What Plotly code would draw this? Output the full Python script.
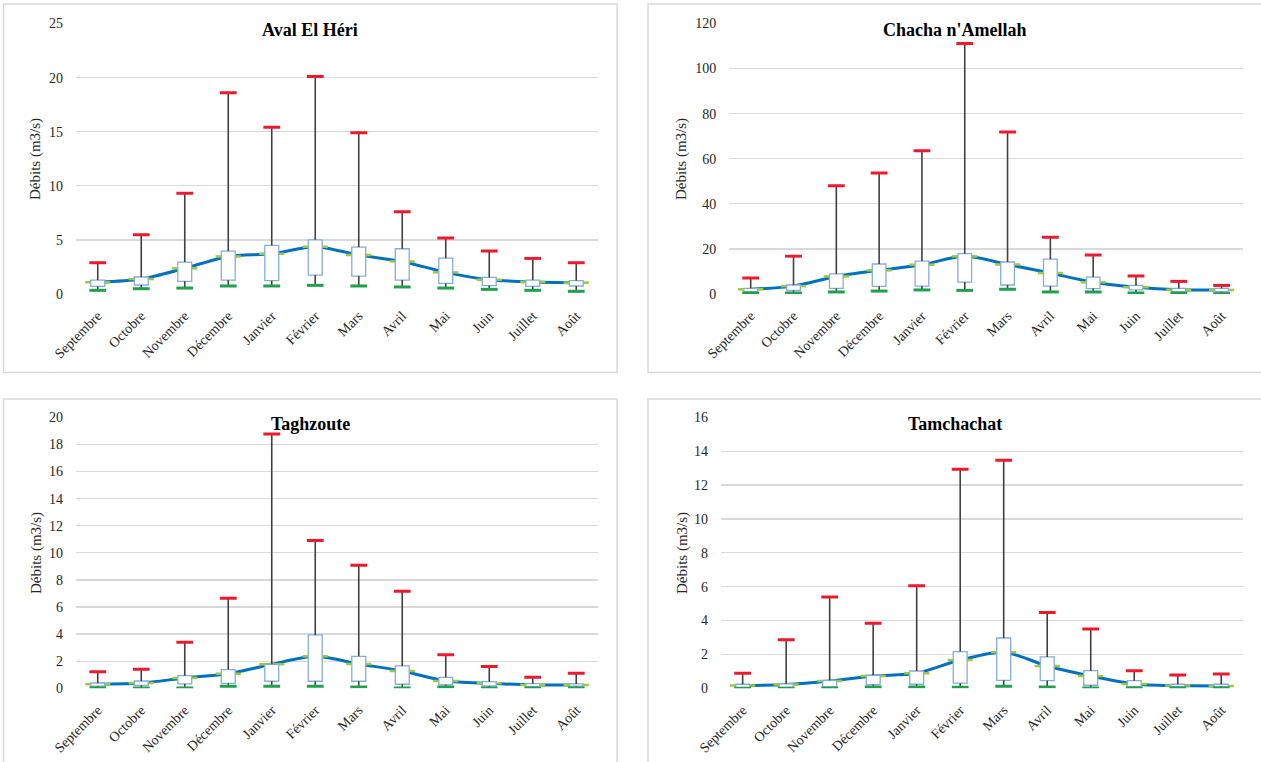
import plotly.graph_objects as go

months = ["Septembre", "Octobre", "Novembre", "Décembre", "Janvier", "Février",
          "Mars", "Avril", "Mai", "Juin", "Juillet", "Août"]

# Aval El Héri
aval_min = [0.34, 0.49, 0.55, 0.74, 0.74, 0.80, 0.74, 0.65, 0.55, 0.43, 0.34, 0.25]
aval_q1 = [0.71, 0.83, 1.17, 1.29, 1.23, 1.75, 1.66, 1.29, 0.98, 0.77, 0.71, 0.74]
aval_q3 = [1.29, 1.57, 2.95, 3.97, 4.49, 5.01, 4.34, 4.18, 3.32, 1.54, 1.29, 1.23]
aval_max = [2.89, 5.47, 9.32, 18.6, 15.4, 20.1, 14.9, 7.6, 5.17, 3.97, 3.29, 2.89]
aval_mean = [1.08, 1.38, 2.37, 3.47, 3.72, 4.37, 3.60, 3.01, 2.00, 1.32, 1.11, 1.05]

# Chacha n'Amellah
chacha_min = [0.4, 0.45, 0.9, 1.3, 1.8, 1.6, 2.1, 0.9, 0.9, 0.45, 0.45, 0.15]
chacha_q1 = [1.0, 1.6, 2.5, 3.4, 3.5, 5.3, 4.0, 3.5, 2.4, 1.8, 0.9, 1.0]
chacha_q3 = [2.5, 4.0, 8.9, 13.3, 14.6, 17.9, 14.2, 15.5, 7.5, 3.8, 2.5, 2.5]
chacha_max = [7.1, 16.8, 48.0, 53.7, 63.6, 111.1, 71.9, 25.2, 17.3, 8.0, 5.6, 3.8]
chacha_mean = [2.1, 3.5, 7.8, 10.5, 13.0, 16.7, 13.1, 9.3, 5.2, 3.0, 1.9, 1.8]

# Taghzoute
tagh_min = [0.02, 0.02, 0.02, 0.15, 0.15, 0.15, 0.10, 0.02, 0.10, 0.02, 0.02, 0.02]
tagh_q1 = [0.15, 0.22, 0.32, 0.37, 0.52, 0.52, 0.52, 0.30, 0.27, 0.17, 0.12, 0.15]
tagh_q3 = [0.39, 0.54, 0.93, 1.38, 1.77, 3.94, 2.36, 1.65, 0.81, 0.49, 0.34, 0.32]
tagh_max = [1.23, 1.40, 3.39, 6.64, 18.77, 10.9, 9.08, 7.16, 2.48, 1.60, 0.81, 1.11]
tagh_mean = [0.30, 0.39, 0.76, 1.08, 1.77, 2.36, 1.80, 1.28, 0.54, 0.37, 0.25, 0.25]

# Tamchachat
tamc_min = [0.0, 0.0, 0.02, 0.08, 0.08, 0.06, 0.12, 0.08, 0.02, 0.02, 0.02, 0.02]
tamc_q1 = [0.04, 0.06, 0.08, 0.22, 0.24, 0.30, 0.47, 0.45, 0.18, 0.10, 0.10, 0.10]
tamc_q3 = [0.24, 0.26, 0.47, 0.77, 1.02, 2.17, 2.97, 1.85, 1.04, 0.45, 0.24, 0.24]
tamc_max = [0.89, 2.87, 5.39, 3.84, 6.06, 12.93, 13.46, 4.47, 3.50, 1.04, 0.79, 0.85]
tamc_mean = [0.16, 0.22, 0.43, 0.73, 0.89, 1.67, 2.13, 1.32, 0.73, 0.26, 0.16, 0.14]

stations = [
    ("Aval El Héri", aval_min, aval_q1, aval_q3, aval_max, aval_mean, 25, 5),
    ("Chacha n'Amellah", chacha_min, chacha_q1, chacha_q3, chacha_max, chacha_mean, 120, 20),
    ("Taghzoute", tagh_min, tagh_q1, tagh_q3, tagh_max, tagh_mean, 20, 2),
    ("Tamchachat", tamc_min, tamc_q1, tamc_q3, tamc_max, tamc_mean, 16, 2),
]

W, H = 1261, 762
FONT = "'Liberation Serif', 'Times New Roman', serif"

# plot-area geometry in pixels (left, right, top, bottom)
areas = [
    (76, 598, 23.5, 294),
    (729.3, 1243, 23.5, 294),
    (76, 598, 417.3, 688.3),
    (720.9, 1243, 417.3, 688.3),
]
title_pos = [(310, 30), (955, 30), (310, 424), (955, 424)]
ytitle_pos = [(36, 159), (682, 159), (36, 553), (682, 553)]
borders = [(3.5, 617, 4, 372.5), (648, 1264, 4, 372.5),
           (3.5, 617, 399, 765), (648, 1264, 399, 765)]

BLUE = "#0070C0"
BOX_EDGE = "#86ACDD"
WHISK = "#404040"
RED = "#F0192C"
GREEN = "#1FA04A"
MEAN_MK = "#9ACD32"

fig = go.Figure()
layout = dict(
    width=W, height=H, autosize=False,
    margin=dict(l=0, r=0, t=0, b=0, pad=0, autoexpand=False),
    paper_bgcolor="white", plot_bgcolor="rgba(0,0,0,0)",
    showlegend=False, font=dict(family=FONT, color="#262626"),
    annotations=[], shapes=[],
)

for i, (name, mn, q1, q3, mx, mean, ymax, dt) in enumerate(stations):
    k = i + 1
    ko = i + 5
    xa = f"x{k}" if k > 1 else "x"
    ya = f"y{k}" if k > 1 else "y"
    yo = f"y{ko}"
    l, r, t, b = areas[i]
    xdom = [l / W, r / W]
    ydom = [1 - b / H, 1 - t / H]

    layout[f"xaxis{k}" if k > 1 else "xaxis"] = dict(
        domain=xdom, anchor=ya, type="category", categoryorder="array",
        categoryarray=months, range=[-0.5, 11.5], showgrid=False, zeroline=False,
        showline=False, ticks="", tickangle=-45, ticklabelstandoff=10,
        automargin=False,
        tickfont=dict(family=FONT, size=14, color="#262626"),
    )
    layout[f"yaxis{k}" if k > 1 else "yaxis"] = dict(
        domain=ydom, anchor=xa, range=[0, ymax], dtick=dt, tick0=0,
        showgrid=True, gridcolor="#D9D9D9", gridwidth=1.3, zeroline=False,
        showline=False, ticks="", ticklabelstandoff=12, automargin=False,
        tickfont=dict(family=FONT, size=14, color="#262626"),
    )
    layout[f"yaxis{ko}"] = dict(
        domain=ydom, anchor=xa, overlaying=ya, range=[0, ymax],
        visible=False, showgrid=False, zeroline=False, automargin=False,
    )

    # mean line (base layer, beneath boxes)
    fig.add_trace(go.Scatter(
        x=months, y=mean, mode="lines+markers", xaxis=xa, yaxis=ya,
        line=dict(color=BLUE, width=3, shape="spline", smoothing=0.8),
        marker=dict(symbol="line-ew", size=18, color=MEAN_MK,
                    line=dict(color=MEAN_MK, width=2.5)),
        hoverinfo="skip",
    ))
    # boxes (overlay layer)
    fig.add_trace(go.Bar(
        x=months, y=[a - c for a, c in zip(q3, q1)], base=q1, width=0.32,
        xaxis=xa, yaxis=yo,
        marker=dict(color="white", line=dict(color=BOX_EDGE, width=1.3)),
        hoverinfo="skip",
    ))
    # whiskers
    wx, wy = [], []
    for m, a, c, d, e in zip(months, mn, q1, q3, mx):
        wx += [m, m, None, m, m, None]
        wy += [a, c, None, d, e, None]
    fig.add_trace(go.Scatter(
        x=wx, y=wy, mode="lines", xaxis=xa, yaxis=yo,
        line=dict(color=WHISK, width=1.6), hoverinfo="skip", connectgaps=False,
    ))
    # caps
    fig.add_trace(go.Scatter(
        x=months, y=mx, mode="markers", xaxis=xa, yaxis=yo,
        marker=dict(symbol="line-ew", size=12, color=RED,
                    line=dict(color=RED, width=3)),
        hoverinfo="skip",
    ))
    fig.add_trace(go.Scatter(
        x=months, y=mn, mode="markers", xaxis=xa, yaxis=yo,
        marker=dict(symbol="line-ew", size=12, color=GREEN,
                    line=dict(color=GREEN, width=3)),
        hoverinfo="skip",
    ))

    tx, ty = title_pos[i]
    layout["annotations"].append(dict(
        text=f"<b>{name}</b>", x=tx / W, y=1 - ty / H, xref="paper", yref="paper",
        xanchor="center", yanchor="middle", showarrow=False,
        font=dict(family=FONT, size=18, color="black"),
    ))
    ax, ay = ytitle_pos[i]
    layout["annotations"].append(dict(
        text="Débits (m3/s)", x=ax / W, y=1 - ay / H, xref="paper", yref="paper",
        xanchor="center", yanchor="middle", showarrow=False, textangle=-90,
        font=dict(family=FONT, size=15, color="#262626"),
    ))
    bl, br, bt, bb = borders[i]
    layout["shapes"].append(dict(
        type="rect", xref="paper", yref="paper",
        x0=bl / W, x1=br / W, y0=1 - bb / H, y1=1 - bt / H,
        line=dict(color="#D9D9D9", width=1.5), fillcolor="rgba(0,0,0,0)",
        layer="below",
    ))

fig.update_layout(**layout)
fig.write_html(
    "out.html",
    config={"displayModeBar": False, "staticPlot": True},
    post_script="document.body.style.margin='0';document.body.style.overflow='hidden';",
)
